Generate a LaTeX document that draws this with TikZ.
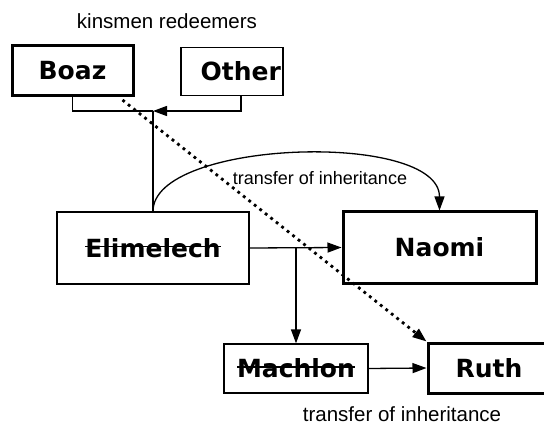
\documentclass[tikz,border=0pt]{standalone}
\usepackage{fontspec}
\setmainfont{Liberation Sans}
\newfontfamily\namefont{DejaVu Sans}
\newcommand{\struck}[1]{\setbox0=\hbox{#1}\rlap{\copy0}\rule[0.4em]{\wd0}{1.6pt}}
\usetikzlibrary{arrows.meta}

\begin{document}
\begin{tikzpicture}[x=1pt,y=-1pt,
person/.style={%
draw,
line width=1.3pt,
inner sep=0pt,
font=\namefont\bfseries\fontsize{25}{30}\selectfont,
},
kin/.style={%
person,
line width=3pt,
},
note/.style={%
font=\fontsize{20.5}{24}\selectfont,
},
link/.style={%
line width=1.3pt,
},
pass/.style={%
link,
-{Triangle[length=14pt,width=10pt]},
},
]
\useasboundingbox (0,0) rectangle (544,433);
%% Kinsmen
\node[note](kinsmen)at(167,21){kinsmen redeemers};
\node[kin,minimum width=121pt,minimum height=50pt](Boaz)at(72.5,70.5){Boaz};
\node[person,minimum width=102pt,minimum height=48pt,text width=98pt,align=right](Other)at(232,71.5){Other};
%% Family
\node[person,minimum width=192pt,minimum height=72pt](Elimelech)at(153,248){\struck{Elimelech}};
\node[kin,minimum width=193pt,minimum height=71pt](Naomi)at(439.5,247.5){Naomi};
\node[person,minimum width=144pt,minimum height=49pt](Machlon)at(296,368.5){\struck{Machlon}};
\node[kin,minimum width=122pt,minimum height=50pt](Ruth)at(489,368){Ruth};
\node[note,font=\fontsize{18}{22}\selectfont](upper)at(320,178){transfer of inheritance};
\node[note](lower)at(402,414){transfer of inheritance};
%% Links
\coordinate(meet)at(Elimelech.north |- 0,111);
\draw[link](Boaz.south)|-(meet);
\draw[pass]([xshift=9pt]Other.south)|-(meet);
\draw[link](meet)--(Elimelech.north);
\draw[pass](Elimelech.north) .. controls +(0,-72) and +(0,-80) .. (Naomi.north);
\draw[pass](Elimelech.east)--(Naomi.west);
\coordinate(split)at(Machlon.north |- Elimelech.east);
\draw[pass](split)--(Machlon.north);
\draw[pass](Machlon.east)--(Ruth.west);
\draw[pass,line width=2.8pt,dash pattern=on 2.8pt off 4.2pt]([xshift=-12pt,yshift=-3pt]Boaz.south east)--(Ruth.north west);
\end{tikzpicture}
\end{document}
